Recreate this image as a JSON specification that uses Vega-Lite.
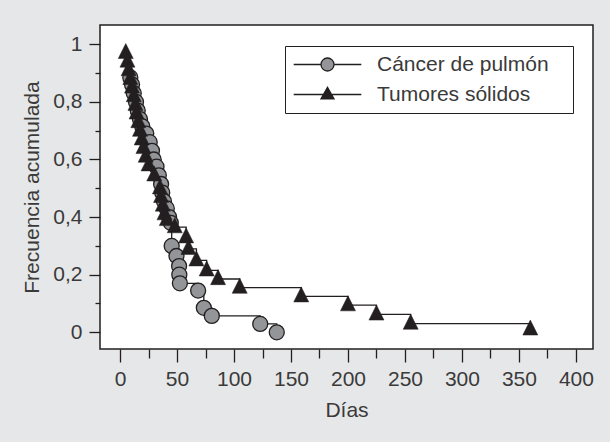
{
  "$schema": "https://vega.github.io/schema/vega-lite/v6.json",
  "width": 493,
  "height": 324,
  "autosize": {"type": "none"},
  "padding": {"left": 100, "top": 25, "right": 17, "bottom": 93},
  "background": "#e6e7e8",
  "view": {"fill": "white", "stroke": "#231f20", "strokeWidth": 1.5},
  "config": {
    "font": "Liberation Sans",
    "axis": {
      "domain": false,
      "grid": false,
      "tickColor": "#231f20",
      "tickWidth": 1.3,
      "labelFont": "Liberation Sans",
      "labelFontSize": 21,
      "labelColor": "#3a3a3a",
      "titleFont": "Liberation Sans",
      "titleFontSize": 21,
      "titleFontWeight": "normal",
      "titleColor": "#3a3a3a"
    }
  },
  "data": {
    "values": [
      {"serie": "Tumores sólidos", "dias": 5, "frecuencia": 0.97},
      {"serie": "Tumores sólidos", "dias": 6.5, "frecuencia": 0.94},
      {"serie": "Tumores sólidos", "dias": 7.5, "frecuencia": 0.91},
      {"serie": "Tumores sólidos", "dias": 9, "frecuencia": 0.88},
      {"serie": "Tumores sólidos", "dias": 10.5, "frecuencia": 0.85},
      {"serie": "Tumores sólidos", "dias": 12, "frecuencia": 0.82},
      {"serie": "Tumores sólidos", "dias": 13.5, "frecuencia": 0.79},
      {"serie": "Tumores sólidos", "dias": 14.5, "frecuencia": 0.76},
      {"serie": "Tumores sólidos", "dias": 16, "frecuencia": 0.73},
      {"serie": "Tumores sólidos", "dias": 17.5, "frecuencia": 0.70},
      {"serie": "Tumores sólidos", "dias": 19, "frecuencia": 0.67},
      {"serie": "Tumores sólidos", "dias": 20.5, "frecuencia": 0.64},
      {"serie": "Tumores sólidos", "dias": 22.5, "frecuencia": 0.61},
      {"serie": "Tumores sólidos", "dias": 25, "frecuencia": 0.58},
      {"serie": "Tumores sólidos", "dias": 30, "frecuencia": 0.545},
      {"serie": "Tumores sólidos", "dias": 35, "frecuencia": 0.50},
      {"serie": "Tumores sólidos", "dias": 36, "frecuencia": 0.47},
      {"serie": "Tumores sólidos", "dias": 37.5, "frecuencia": 0.44},
      {"serie": "Tumores sólidos", "dias": 39, "frecuencia": 0.41},
      {"serie": "Tumores sólidos", "dias": 41, "frecuencia": 0.39},
      {"serie": "Tumores sólidos", "dias": 48, "frecuencia": 0.365},
      {"serie": "Tumores sólidos", "dias": 58, "frecuencia": 0.33},
      {"serie": "Tumores sólidos", "dias": 60, "frecuencia": 0.29},
      {"serie": "Tumores sólidos", "dias": 67, "frecuencia": 0.25},
      {"serie": "Tumores sólidos", "dias": 76, "frecuencia": 0.215},
      {"serie": "Tumores sólidos", "dias": 86, "frecuencia": 0.185},
      {"serie": "Tumores sólidos", "dias": 105, "frecuencia": 0.155},
      {"serie": "Tumores sólidos", "dias": 159, "frecuencia": 0.125},
      {"serie": "Tumores sólidos", "dias": 200, "frecuencia": 0.094},
      {"serie": "Tumores sólidos", "dias": 225, "frecuencia": 0.062},
      {"serie": "Tumores sólidos", "dias": 255, "frecuencia": 0.03},
      {"serie": "Tumores sólidos", "dias": 360, "frecuencia": 0.01},
      {"serie": "Cáncer de pulmón", "dias": 9, "frecuencia": 0.885},
      {"serie": "Cáncer de pulmón", "dias": 10.5, "frecuencia": 0.86},
      {"serie": "Cáncer de pulmón", "dias": 12, "frecuencia": 0.83},
      {"serie": "Cáncer de pulmón", "dias": 14, "frecuencia": 0.80},
      {"serie": "Cáncer de pulmón", "dias": 15.5, "frecuencia": 0.77},
      {"serie": "Cáncer de pulmón", "dias": 17.5, "frecuencia": 0.74},
      {"serie": "Cáncer de pulmón", "dias": 19.5, "frecuencia": 0.715},
      {"serie": "Cáncer de pulmón", "dias": 23, "frecuencia": 0.69},
      {"serie": "Cáncer de pulmón", "dias": 26, "frecuencia": 0.66},
      {"serie": "Cáncer de pulmón", "dias": 28, "frecuencia": 0.63},
      {"serie": "Cáncer de pulmón", "dias": 29.5, "frecuencia": 0.60},
      {"serie": "Cáncer de pulmón", "dias": 32, "frecuencia": 0.575},
      {"serie": "Cáncer de pulmón", "dias": 34, "frecuencia": 0.545},
      {"serie": "Cáncer de pulmón", "dias": 36, "frecuencia": 0.515},
      {"serie": "Cáncer de pulmón", "dias": 37, "frecuencia": 0.485},
      {"serie": "Cáncer de pulmón", "dias": 38.5, "frecuencia": 0.455},
      {"serie": "Cáncer de pulmón", "dias": 41, "frecuencia": 0.43},
      {"serie": "Cáncer de pulmón", "dias": 43, "frecuencia": 0.40},
      {"serie": "Cáncer de pulmón", "dias": 44.5, "frecuencia": 0.38},
      {"serie": "Cáncer de pulmón", "dias": 45.3, "frecuencia": 0.30},
      {"serie": "Cáncer de pulmón", "dias": 49.5, "frecuencia": 0.265},
      {"serie": "Cáncer de pulmón", "dias": 51.8, "frecuencia": 0.23},
      {"serie": "Cáncer de pulmón", "dias": 52, "frecuencia": 0.20},
      {"serie": "Cáncer de pulmón", "dias": 52.5, "frecuencia": 0.17},
      {"serie": "Cáncer de pulmón", "dias": 68.5, "frecuencia": 0.145},
      {"serie": "Cáncer de pulmón", "dias": 73.5, "frecuencia": 0.085},
      {"serie": "Cáncer de pulmón", "dias": 80.5, "frecuencia": 0.057},
      {"serie": "Cáncer de pulmón", "dias": 123, "frecuencia": 0.029},
      {"serie": "Cáncer de pulmón", "dias": 137.5, "frecuencia": 0.0}
    ]
  },
  "encoding": {
    "x": {
      "field": "dias",
      "type": "quantitative",
      "scale": {"domain": [-17.6, 415], "nice": false, "zero": false},
      "axis": {
        "title": "Días",
        "values": [0, 25, 50, 75, 100, 125, 150, 175, 200, 225, 250, 275, 300, 325, 350, 375, 400],
        "labelExpr": "datum.value % 50 == 0 ? datum.label : ''",
        "tickSize": {"condition": {"test": "datum.value % 50 == 0", "value": 13}, "value": 9},
        "labelPadding": 6,
        "titlePadding": 10
      }
    },
    "y": {
      "field": "frecuencia",
      "type": "quantitative",
      "scale": {"domain": [-0.058, 1.067], "nice": false, "zero": false},
      "axis": {
        "title": "Frecuencia acumulada",
        "values": [0, 0.1, 0.2, 0.3, 0.4, 0.5, 0.6, 0.7, 0.8, 0.9, 1],
        "labelExpr": "round(datum.value * 10) % 2 == 0 ? replace(format(datum.value, '.1~f'), '.', ',') : ''",
        "tickSize": {"condition": {"test": "round(datum.value * 10) % 2 == 0", "value": 11}, "value": 5},
        "labelPadding": 7,
        "titlePadding": 10
      }
    }
  },
  "layer": [
    {
      "mark": {"type": "line", "interpolate": "step-after", "color": "#231f20", "strokeWidth": 1.3},
      "encoding": {"detail": {"field": "serie"}}
    },
    {
      "transform": [{"filter": "datum.serie == 'Cáncer de pulmón'"}],
      "mark": {"type": "point", "shape": "circle", "filled": true, "fill": "#939598", "stroke": "#231f20", "strokeWidth": 1.3, "size": 225, "opacity": 1}
    },
    {
      "transform": [{"filter": "datum.serie == 'Tumores sólidos'"}],
      "mark": {"type": "point", "shape": "M0,-1.25L1,0.75L-1,0.75Z", "filled": true, "fill": "#231f20", "stroke": "#231f20", "strokeWidth": 0.5, "size": 225, "opacity": 1}
    },
    {
      "mark": {"type": "point", "filled": true, "opacity": 0, "stroke": "#231f20", "strokeWidth": 1.3},
      "encoding": {
        "color": {
          "field": "serie",
          "type": "nominal",
          "scale": {"domain": ["Cáncer de pulmón", "Tumores sólidos"], "range": ["#939598", "#231f20"]},
          "legend": {
            "title": ".",
            "titleColor": "white",
            "titleOrient": "right",
            "titlePadding": 14,
            "titleFontSize": 6,
            "orient": "none",
            "legendX": 185,
            "legendY": 21,
            "strokeColor": "#231f20",
            "fillColor": "white",
            "padding": 8,
            "rowPadding": 8,
            "symbolSize": 169,
            "symbolStrokeColor": "#231f20",
            "symbolStrokeWidth": 1.3,
            "symbolOpacity": 1,
            "symbolOffset": 24,
            "labelOffset": 39,
            "labelLimit": 400,
            "labelFont": "Liberation Sans",
            "labelFontSize": 21,
            "labelColor": "#3a3a3a",
            "encode": {"symbols": {"update": {"stroke": {"value": "#231f20"}, "strokeWidth": {"value": 1.3}, "opacity": {"value": 1}}}}
          }
        },
        "shape": {
          "field": "serie",
          "type": "nominal",
          "scale": {
            "domain": ["Cáncer de pulmón", "Tumores sólidos"],
            "range": [
              "M-5.2,0H-1M1,0H5.2M-1,0C-1,-0.5523,-0.5523,-1,0,-1C0.5523,-1,1,-0.5523,1,0C1,0.5523,0.5523,1,0,1C-0.5523,1,-1,0.5523,-1,0Z",
              "M-5.2,0H5.2M0,-1.1L1,0.65L-1,0.65Z"
            ]
          },
          "legend": {
            "title": ".",
            "titleColor": "white",
            "titleOrient": "right",
            "titlePadding": 14,
            "titleFontSize": 6,
            "orient": "none",
            "legendX": 185,
            "legendY": 21,
            "strokeColor": "#231f20",
            "fillColor": "white",
            "padding": 8,
            "rowPadding": 8,
            "symbolSize": 169,
            "symbolStrokeColor": "#231f20",
            "symbolStrokeWidth": 1.3,
            "symbolOpacity": 1,
            "symbolOffset": 24,
            "labelOffset": 39,
            "labelLimit": 400,
            "labelFont": "Liberation Sans",
            "labelFontSize": 21,
            "labelColor": "#3a3a3a",
            "encode": {"symbols": {"update": {"stroke": {"value": "#231f20"}, "strokeWidth": {"value": 1.3}, "opacity": {"value": 1}}}}
          }
        }
      }
    }
  ]
}
